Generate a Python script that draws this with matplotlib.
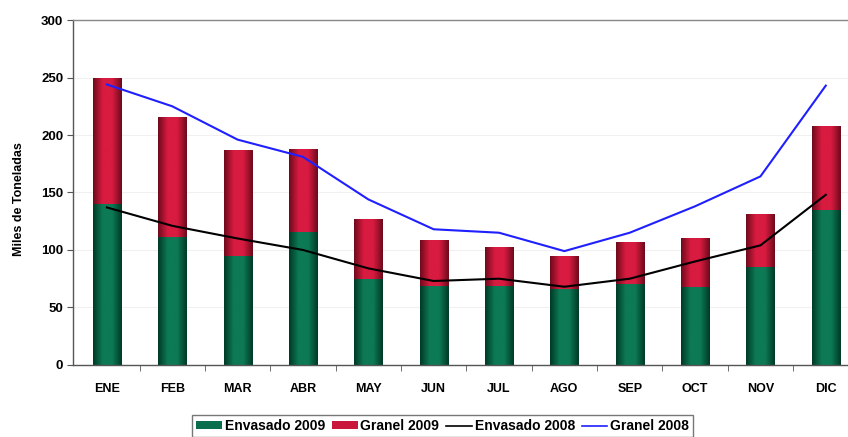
import numpy as np
import matplotlib as mpl
from matplotlib import pyplot as plt
from matplotlib.patches import Patch
from matplotlib.lines import Line2D

months = ['ENE', 'FEB', 'MAR', 'ABR', 'MAY', 'JUN', 'JUL', 'AGO', 'SEP', 'OCT', 'NOV', 'DIC']
envasado_2009 = [140, 111, 95, 116, 75, 69, 69, 66, 70, 68, 85, 135]
granel_2009 = [110, 105, 92, 72, 52, 40, 34, 29, 37, 42, 46, 73]
envasado_2008 = [137, 121, 110, 100, 84, 73, 75, 68, 75, 90, 104, 148]
granel_2008 = [244, 225, 196, 181, 144, 118, 115, 99, 115, 138, 164, 243]

plt.rcParams['font.family'] = ['Liberation Sans', 'DejaVu Sans']
plt.rcParams['font.weight'] = 'bold'


def shade_bars(ax, bars, dark, light):
    # horizontal gradient, darker at both edges of each bar
    cmap = mpl.colors.LinearSegmentedColormap.from_list('g', [dark, light, light, dark])
    grad = np.linspace(0, 1, 64).reshape(1, -1)
    for b in bars:
        x, y = b.get_x(), b.get_y()
        w, h = b.get_width(), b.get_height()
        im = ax.imshow(grad, cmap=cmap, aspect='auto', extent=(x, x + w, y, y + h),
                       zorder=2, interpolation='bicubic')
        im.set_clip_path(b)


fig = plt.figure(figsize=(8.48, 4.37), dpi=100)
ax = fig.add_axes([0.086, 0.165, 0.914, 0.789])

x = np.arange(len(months))
width = 0.43
green_bars = ax.bar(x, envasado_2009, width, color='#0a6e4c', zorder=1)
red_bars = ax.bar(x, granel_2009, width, bottom=envasado_2009, color='#c8173a', zorder=1)
shade_bars(ax, green_bars, '#003a27', '#0d7a55')
shade_bars(ax, red_bars, '#6e0a1c', '#d81b40')

ax.plot(x, envasado_2008, color='black', lw=1.5, zorder=4, solid_joinstyle='round')
ax.plot(x, granel_2008, color='#1f1fff', lw=1.5, zorder=4, solid_joinstyle='round')

ax.set_xlim(-0.52, 11.34)
ax.set_ylim(0, 300)
ax.set_yticks(np.arange(0, 301, 50))
ax.yaxis.grid(True, color='#f0f0f0', lw=0.8, zorder=0)
ax.set_axisbelow(True)
ax.set_xticks(x)
ax.set_xticklabels(months, fontsize=9, fontweight='bold')
ax.set_xticks(np.arange(0.5, 11, 1), minor=True)
ax.tick_params(axis='x', which='major', length=0, pad=13)
ax.tick_params(axis='x', which='minor', length=4, color='#555555', direction='out')
ax.tick_params(axis='y', labelsize=9.5, length=4, color='#555555', pad=3)
for lab in ax.get_yticklabels():
    lab.set_fontweight('bold')
ax.set_ylabel('Miles de Toneladas', fontsize=9, fontweight='bold')
ax.yaxis.set_label_coords(-0.062, 0.48)

for s in ['left', 'bottom', 'top']:
    ax.spines[s].set_color('#555555')
    ax.spines[s].set_linewidth(1)
ax.spines['top'].set_color('#888888')
ax.spines['right'].set_visible(False)

handles = [
    Patch(facecolor='#0a6e4c', edgecolor='none'),
    Patch(facecolor='#c8173a', edgecolor='none'),
    Line2D([], [], color='black', lw=1.2),
    Line2D([], [], color='#1f1fff', lw=1.2),
]
labels = ['Envasado 2009', 'Granel 2009', 'Envasado 2008', 'Granel 2008']
leg = fig.legend(handles, labels, loc='upper left', bbox_to_anchor=(192 / 848, 1 - 415 / 437),
                 ncol=4, frameon=True, fancybox=False, edgecolor='#555555',
                 prop={'size': 10, 'weight': 'bold'}, handlelength=1.85, handleheight=0.5,
                 columnspacing=0.5, handletextpad=0.2, borderpad=0.3, borderaxespad=0)
leg.get_frame().set_linewidth(1)

fig.savefig('out.png', dpi=100)
